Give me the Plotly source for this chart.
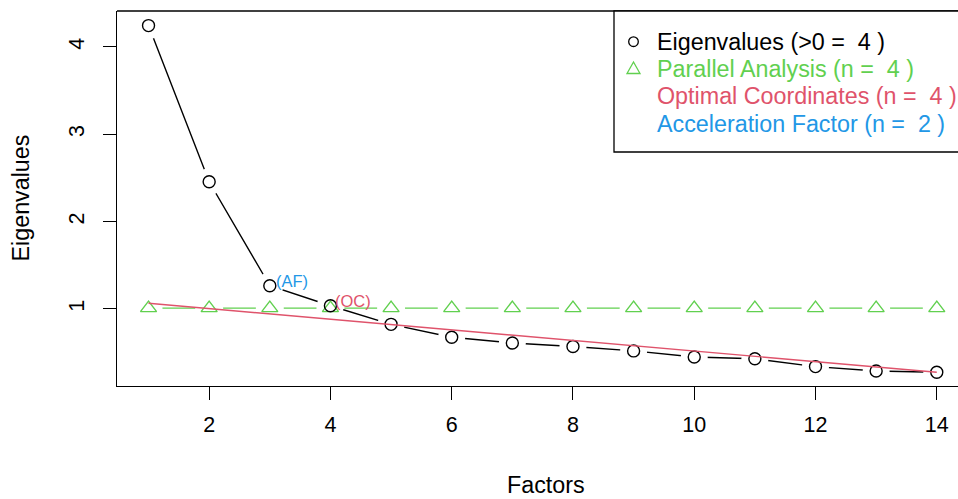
import plotly.graph_objects as go

# ---- data ----
factors = list(range(1, 15))
eigenvalues = [4.245, 2.457, 1.266, 1.037, 0.824, 0.676, 0.61, 0.57, 0.52, 0.45, 0.43, 0.34, 0.29, 0.275]
parallel = [1.01, 1.01, 1.01, 1.01, 1.01, 1.01, 1.01, 1.01, 1.01, 1.01, 1.01, 1.01, 1.01, 1.01]
oc_x = [1, 14]
oc_y = [1.065, 0.275]
x_ticks = [2, 4, 6, 8, 10, 12, 14]
y_ticks = [1, 2, 3, 4]
legend_labels = ["Eigenvalues (>0 =  4 )", "Parallel Analysis (n =  4 )",
                 "Optimal Coordinates (n =  4 )", "Acceleration Factor (n =  2 )"]
af_label, af_index = "(AF)", 3
oc_label, oc_index = "(OC)", 4

BLACK = "#000000"
GREEN = "#61D04F"
RED = "#DF536B"
BLUE = "#2297E6"
FONT = "Liberation Sans, Arial, Helvetica, sans-serif"

W, H = 958, 499
ML, MR, MT, MB = 117, 0, 11, 113
PW, PH = W - ML - MR, H - MT - MB


def px(xp):
    return (xp - ML) / PW


def py(yp):
    return (H - MB - yp) / PH


fig = go.Figure()

# green parallel analysis: line, gap mask
fig.add_trace(go.Scatter(x=factors, y=parallel, mode="lines",
                         line=dict(color=GREEN, width=1.4), showlegend=False, hoverinfo="skip"))
fig.add_trace(go.Scatter(x=factors, y=parallel, mode="markers",
                         marker=dict(symbol="circle", size=28, color="white", line=dict(width=0)),
                         showlegend=False, hoverinfo="skip"))
# black eigenvalues: line, gap mask
fig.add_trace(go.Scatter(x=factors, y=eigenvalues, mode="lines",
                         line=dict(color=BLACK, width=1.4), showlegend=False, hoverinfo="skip"))
fig.add_trace(go.Scatter(x=factors, y=eigenvalues, mode="markers",
                         marker=dict(symbol="circle", size=27, color="white", line=dict(width=0)),
                         showlegend=False, hoverinfo="skip"))
# symbols
fig.add_trace(go.Scatter(x=factors, y=parallel, mode="markers",
                         marker=dict(symbol="triangle-up-open", size=14, color=GREEN, line=dict(width=1.4)),
                         name=legend_labels[1], showlegend=False))
fig.add_trace(go.Scatter(x=factors, y=eigenvalues, mode="markers",
                         marker=dict(symbol="circle-open", size=12, color=BLACK, line=dict(width=1.4)),
                         name=legend_labels[0], showlegend=False))
# optimal coordinates line
fig.add_trace(go.Scatter(x=oc_x, y=oc_y, mode="lines",
                         line=dict(color=RED, width=1.4), name=legend_labels[2], showlegend=False))

# point labels
fig.add_annotation(x=factors[af_index - 1], y=eigenvalues[af_index - 1], text=af_label,
                   showarrow=False, xanchor="left", yanchor="middle", xshift=4, yshift=5,
                   font=dict(family=FONT, size=16.5, color=BLUE))
fig.add_annotation(x=factors[oc_index - 1], y=eigenvalues[oc_index - 1], text=oc_label,
                   showarrow=False, xanchor="left", yanchor="middle", xshift=3, yshift=5,
                   font=dict(family=FONT, size=16.5, color=RED))

# axis titles
fig.add_annotation(xref="paper", yref="paper", x=px(545.5), y=py(485), text="Factors",
                   showarrow=False, xanchor="center", yanchor="middle",
                   font=dict(family=FONT, size=23.3, color=BLACK))
fig.add_annotation(xref="paper", yref="paper", x=px(20), y=py(198.5), text="Eigenvalues",
                   showarrow=False, xanchor="center", yanchor="middle", textangle=-90,
                   font=dict(family=FONT, size=23.3, color=BLACK))

# plot box (top line) and legend box
fig.add_shape(type="line", xref="paper", yref="paper", x0=0, x1=1, y0=1, y1=1,
              line=dict(color=BLACK, width=1.3))
fig.add_shape(type="rect", xref="paper", yref="paper", x0=px(614), x1=px(970), y0=py(152), y1=1,
              line=dict(color=BLACK, width=1.3), fillcolor="white", layer="above")

# legend entries
legend_colors = [BLACK, GREEN, RED, BLUE]
row_y = [41.7, 68.5, 96.5, 124.3]
for lab, col, ry in zip(legend_labels, legend_colors, row_y):
    fig.add_annotation(xref="paper", yref="paper", x=px(655), y=py(ry), text=lab,
                       showarrow=False, xanchor="left", yanchor="middle",
                       font=dict(family=FONT, size=23.3, color=col))
# legend symbols (circle, triangle)
r = 4.8
fig.add_shape(type="circle", xref="paper", yref="paper",
              x0=px(633.5 - r), x1=px(633.5 + r), y0=py(row_y[0] + r), y1=py(row_y[0] - r),
              line=dict(color=BLACK, width=1.3), layer="above")
tx, ty = 633.5, row_y[1]
fig.add_shape(type="path", xref="paper", yref="paper",
              path=f"M {px(tx - 6.5)} {py(ty + 5)} L {px(tx + 6.5)} {py(ty + 5)} L {px(tx)} {py(ty - 6.5)} Z",
              line=dict(color=GREEN, width=1.3), layer="above")

fig.update_layout(
    width=W, height=H,
    margin=dict(l=ML, r=MR, t=MT, b=MB),
    paper_bgcolor="white", plot_bgcolor="white",
    font=dict(family=FONT, size=21, color=BLACK),
    showlegend=False,
    xaxis=dict(range=[0.48, 14.35], tickvals=x_ticks, ticks="outside", ticklen=13, tickwidth=1.3,
               tickcolor=BLACK, showline=True, linecolor=BLACK, linewidth=1.3, showgrid=False,
               zeroline=False, tickfont=dict(size=21.5), ticklabelstandoff=6),
    yaxis=dict(range=[0.118, 4.412], tickvals=y_ticks, ticks="outside", ticklen=13, tickwidth=1.3,
               tickcolor=BLACK, showline=True, linecolor=BLACK, linewidth=1.3, showgrid=False,
               zeroline=False, tickangle=-90, tickfont=dict(size=21.5), ticklabelstandoff=10),
)

fig.write_html("out.html", config={"displayModeBar": False},
               post_script="document.body.style.margin='0px';document.body.style.overflow='hidden';")
